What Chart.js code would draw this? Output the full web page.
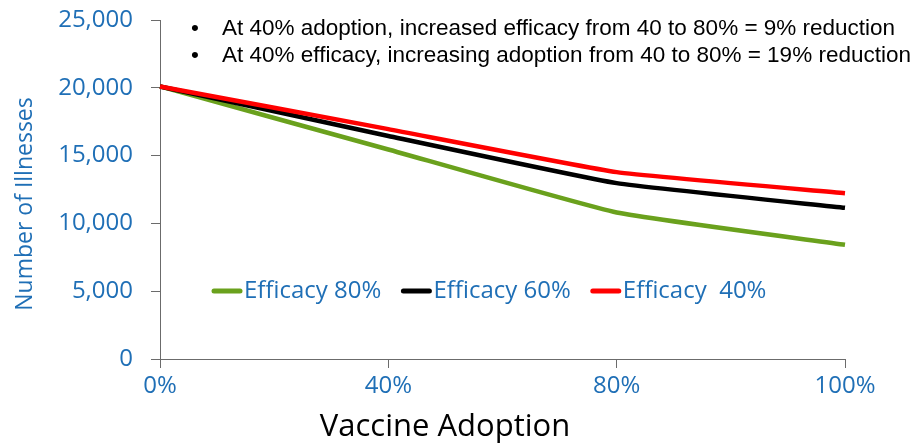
<!DOCTYPE html>
<html lang="en">
<head>
    <meta charset="UTF-8">
    <title>Vaccine Adoption vs Illnesses</title>
    <script src="https://cdn.jsdelivr.net/npm/chart.js"></script>
    <style>
        body {
            margin: 0;
            background-color: #ffffff;
        }
        #wrap {
            width: 917px;
            height: 446px;
            position: relative;
        }
    </style>
</head>
<body>
    <div id="wrap"><canvas id="illnessChart"></canvas></div>
    <script>
        const adoption = ['0%', '40%', '80%', '100%'];
        const efficacy80 = [20100, 15450, 10800, 8420];
        const efficacy60 = [20100, 16450, 12970, 11150];
        const efficacy40 = [20100, 16950, 13780, 12230];
        const seriesNames = ['Efficacy 80%', 'Efficacy 60%', 'Efficacy  40%'];
        const yTicks = [0, 5000, 10000, 15000, 20000, 25000];
        const notes = [
            'At 40% adoption, increased efficacy from 40 to 80% = 9% reduction',
            'At 40% efficacy, increasing adoption from 40 to 80% = 19% reduction'
        ];

        const blue = '#1f6fb6';
        const axisGray = '#6b6b6b';
        const tickFont = { family: 'Open Sans', size: 24 };

        // titles, notes and the in-plot legend
        const extrasPlugin = {
            id: 'extras',
            afterDraw(chart) {
                const ctx = chart.ctx;
                ctx.save();

                // bullet notes at the top
                ctx.fillStyle = '#000';
                ctx.font = '22.5px "Liberation Sans"';
                ctx.textBaseline = 'middle';
                notes.forEach((t, i) => {
                    const y = 29 + i * 27;
                    ctx.fillText('\u2022', 191, y);
                    ctx.fillText(t, 222, y);
                });

                // x axis title
                ctx.font = '31px "Open Sans"';
                ctx.textAlign = 'center';
                ctx.fillText('Vaccine Adoption', 445, 427);

                // y axis title
                ctx.fillStyle = blue;
                ctx.font = '23px "Open Sans"';
                ctx.translate(25, 204);
                ctx.rotate(-Math.PI / 2);
                ctx.fillText('Number of Illnesses', 0, 0);
                ctx.setTransform(1, 0, 0, 1, 0, 0);

                // legend
                ctx.textAlign = 'left';
                ctx.font = '24px "Open Sans"';
                let x = 212;
                const y = 291;
                chart.data.datasets.forEach(ds => {
                    ctx.strokeStyle = ds.borderColor;
                    ctx.lineWidth = 5;
                    ctx.lineCap = 'round';
                    ctx.beginPath();
                    ctx.moveTo(x + 2, y);
                    ctx.lineTo(x + 28, y);
                    ctx.stroke();
                    ctx.fillStyle = blue;
                    ctx.fillText(ds.label, x + 32, y);
                    x += 32 + ctx.measureText(ds.label).width + 20;
                });
                ctx.restore();
            }
        };

        const ctx = document.getElementById('illnessChart').getContext('2d');
        new Chart(ctx, {
            type: 'line',
            data: {
                labels: adoption,
                datasets: [
                    { label: seriesNames[0], data: efficacy80, borderColor: '#6aa11d', order: 2 },
                    { label: seriesNames[1], data: efficacy60, borderColor: '#000000', order: 1 },
                    { label: seriesNames[2], data: efficacy40, borderColor: '#ff0000', order: 0 }
                ].map(d => Object.assign(d, {
                    borderWidth: 4.5,
                    pointRadius: 0,
                    tension: 0.12,
                    fill: false
                }))
            },
            options: {
                responsive: true,
                maintainAspectRatio: false,
                animation: false,
                layout: { padding: { top: 20, right: 72, left: 0, bottom: 0 } },
                plugins: {
                    legend: { display: false },
                    tooltip: { enabled: false }
                },
                scales: {
                    x: {
                        offset: false,
                        grid: { drawOnChartArea: false, tickLength: 9, color: axisGray },
                        border: { color: axisGray },
                        ticks: { color: blue, font: tickFont, padding: 4, maxRotation: 0 },
                        afterFit: s => { s.height = 87; }
                    },
                    y: {
                        min: 0,
                        max: 25000,
                        afterBuildTicks: s => { s.ticks = yTicks.map(v => ({ value: v })); },
                        grid: { drawOnChartArea: false, tickLength: 9, color: axisGray },
                        border: { color: axisGray },
                        ticks: {
                            color: blue,
                            font: tickFont,
                            padding: 18,
                            callback: v => v.toLocaleString('en-US')
                        },
                        afterFit: s => {
                            s.width = 160;
                            s.paddingTop = 0;
                            s.paddingBottom = 0;
                        }
                    }
                }
            },
            plugins: [extrasPlugin]
        });
    </script>
</body>
</html>
